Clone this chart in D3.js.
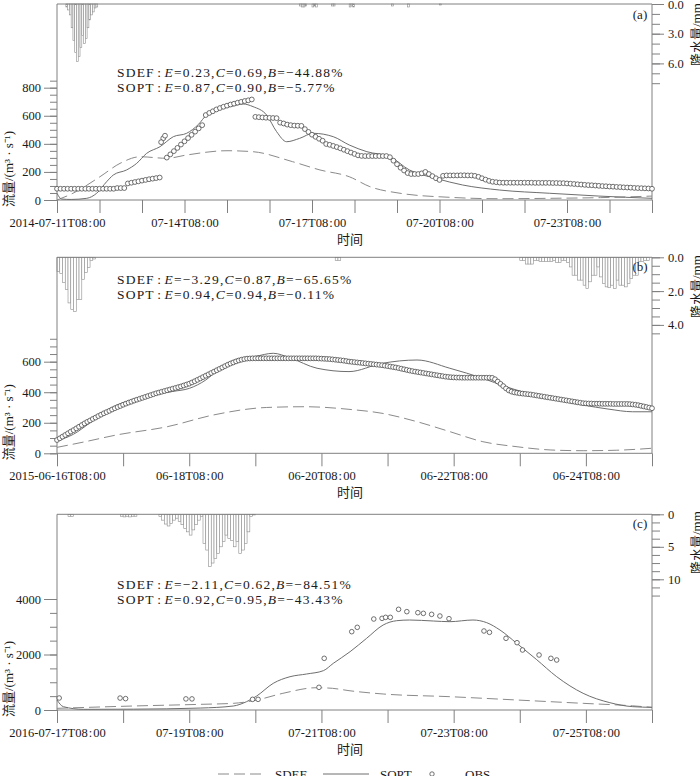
<!DOCTYPE html>
<html>
<head>
<meta charset="utf-8">
<script src="https://cdn.jsdelivr.net/npm/d3@7"></script>
<style>
  body { margin: 0; background: #fff; }
  svg { display: block; font-family: "Liberation Serif", "Times New Roman", "Noto Sans CJK SC", serif; }
</style>
</head>
<body>
<svg id="chart" width="700" height="776"></svg>
<script>
// ---------- data (hours counted from each panel's start time) ----------

// (a) 2014-07-11T08:00, 14 days
const obsA_step = 2;
const obsA = [
  80,80,80,80,80,80,80,80,80,80,80,80,80,80,80,80,80,
  85,85,85,
  118,123,128,133,138,143,148,152,156,160,
  440,
  302,325,348,371,395,418,441,464,487,510,533,
  605,620,632,645,655,664,672,680,686,693,699,705,710,716,
  592,590,588,586,585,584,583,
  551,545,537,533,530,529,528,
  505,485,465,450,436,422,
  399,393,385,377,368,358,348,338,328,318,
  314,313,313,313,313,313,313,313,
  305,280,255,230,210,192,
  185,185,185,190,
  200,185,170,155,143,
  172,175,175,175,175,176,176,175,175,
  172,165,155,145,136,130,127,124,
  123,123,123,123,123,123,123,123,123,122,122,122,122,122,121,121,120,120,
  118,116,114,112,110,108,106,105,
  103,101,99,98,96,95,93,92,90,89,88,86,
  85,84,83,82,80
];
const obsA_extra = [[58.8, 412], [61, 458]];
const soptA = [
  [0,48],[2.6,7],[8,4],[16.8,12],[22.4,48],[28,130],[31.8,178],[39.3,214],[45,261],
  [50.6,332],[58.2,380],[65.7,451],[73.2,475],[80,540],[84.5,605],[99.4,670],[105,684],
  [110.7,665],[118.4,605],[124,487],[129.7,415],[137,439],[144.7,475],[156,451],
  [165,392],[175,344],[188,308],[199,214],[214,154],[229,107],[250,71],[278,48],
  [306,28],[336,12]
];
const sdefA = [
  [0,0],[9,48],[24.3,166],[35.6,261],[47,308],[62,297],[73,320],[96,351],[110.7,344],
  [133,273],[148.5,214],[165,166],[176.7,95],[193.7,48],[222,19],[250,9],[278,12],
  [307,17],[336,28]
];
const rainA = [
  [5, [0.3,0.6,1.1,2.4,3.7,4.9,5.8,5.3,4.4,3.2,4.0,3.5,2.4,1.6,1.1,0.8,0.4,0.3]],
  [137, [0.2,0.3,0.3,0.2]], [144, [0.3,0.2,0.3]], [155, [0.2,0.2]],
  [165, [0.3,0.2,0.3]], [189, [0.2]], [198, [0.3]], [216, [0.1]]
];
const statsA = [["SDEF", "0.23", "0.69", "−44.88%"], ["SOPT", "0.87", "0.90", "−5.77%"]];

// (b) 2015-06-16T08:00, 9 days
const obsB_step = 1;
const obsB = [
  87,98,109,120,131,142,152,163,174,185,196,206,215,
  225,234,244,253,262,270,278,287,295,303,310,318,
  325,332,338,345,351,357,363,369,375,381,387,393,
  398,403,408,413,418,423,428,433,438,444,450,456,
  464,472,481,490,499,508,517,526,535,544,553,562,
  571,580,588,595,602,608,613,617,620,621,622,
  622,622,622,622,622,622,622,622,622,622,622,622,622,622,622,622,622,622,622,622,622,622,622,
  621,620,619,618,617,615,613,611,609,607,604,601,
  599,597,595,593,591,589,587,585,583,581,579,577,
  574,571,568,565,562,558,554,550,546,542,538,535,
  532,529,526,523,520,517,514,511,508,505,502,500,498,497,
  496,496,495,495,495,495,495,495,495,495,495,495,495,494,
  485,470,455,440,425,412,404,399,396,393,391,389,
  387,385,382,379,376,373,370,367,364,361,358,355,352,349,346,343,340,337,334,331,328,
  327,326,326,325,325,325,324,324,324,324,323,323,323,323,323,323,322,320,
  318,315,311,307,303,299,295
];
const soptB = [
  [0,82],[6,125],[12,200],[18,280],[24,332],[30,360],[36,385],[42,405],[48,425],[54,480],
  [60,570],[66,620],[72,635],[78.5,655],[84.6,625],[94.4,557],[106,535],[118,589],
  [130.7,611],[142.6,557],[154.6,491],[163,436],[169,403],[180,355],[191,316],[200,290],
  [209,272],[216,272]
];
const sdefB = [
  [0,39],[10,75],[21.6,120],[40,174],[56.8,251],[76,300],[90,305],[106,288],[118,262],
  [130.7,207],[142.6,142],[154.6,76],[167,43],[179,22],[191,17],[203,20],[216,33]
];
const rainB = [
  [0, [0.85,0.95,1.5,1.9,2.7,3.1,3.2,2.5,2.5,1.3,0.9,0.6,0.2,0.1]],
  [101, [0.2,0.2]],
  [168, [0.18,0.18,0.4,0.4,0.4,0.2,0.2,0.25,0.25,0.25,0.25,0.25,0.2,0.3,0.3,0.2,0.2,0.3]],
  [186, [0.57,1.06,1.06,1.35,1.35,1.65,1.84,1.45,1.06,1.06,0.57,1.16,1.55,1.75,1.8,
         1.65,1.84,1.35,1.65,1.65,1.75,1.55,1.26,1.06,1.06,0.25,0.25,0.2,0.2]]
];
const statsB = [["SDEF", "−3.29", "0.87", "−65.65%"], ["SOPT", "0.94", "0.94", "−0.11%"]];

// (c) 2016-07-17T08:00, 9 days
const obsC = [
  [0.8,432],[22.9,430],[24.9,410],[46.8,400],[49,400],[71,384],[73,384],[95.1,817],
  [97,1862],[107,2822],[109,2979],[115,3279],[118,3303],[119.3,3339],[121,3339],
  [124,3628],[127,3544],[131,3507],[133,3483],[136,3447],[139,3387],[142.3,3291],
  [155,2847],[157,2799],[163,2583],[167,2426],[169,2162],[175,1982],[179.3,1862],[181.4,1802]
];
const soptC = [
  [0,360],[2.3,120],[9.5,24],[27.7,30],[52,70],[64,144],[68.8,300],[72.5,505],[78.5,961],
  [84.6,1200],[90.6,1297],[96.7,1417],[100.3,1681],[106.4,2101],[112.4,2583],[118.4,3063],
  [123.3,3218],[128,3243],[136.6,3207],[142.6,3183],[151,3243],[156,3147],[160.8,2883],
  [166.9,2403],[174,1826],[181.4,1200],[191,601],[200.7,264],[209,120],[216,96]
];
const sdefC = [
  [0,60],[27.7,144],[52,204],[64,240],[72.5,360],[82,601],[94.3,804],[100,781],[106,697],
  [118.4,577],[142.6,480],[167,360],[191,240],[209,150],[216,96]
];
const rainC = [
  [4, [0.35,0.35]],
  [23, [0.3,0.4,0.3,0.4,0.3,0.3]],
  [37, [0.36,0.9,1.5,1.8,1.4,0.9,0.6,1.1,1.6,2.2,2.7,3.2,2.4,1.6,0.9,0.36,4.5,5.5,8.0,
        7.5,6.8,6.0,5.0,4.2,3.2,3.7,4.0,5.0,4.2,6.0,5.5,4.5,2.7,0.36,0.1]]
];
const statsC = [["SDEF", "−2.11", "0.62", "−84.51%"], ["SOPT", "0.92", "0.95", "−43.43%"]];

const legendItems = [
  {label: "SDEF", type: "dash"},
  {label: "SOPT", type: "line"},
  {label: "OBS", type: "circle"}
];

// ---------- layout ----------
const L = 57, R = 652;
const AXIS = '#808080', TEXT = '#1a1a1a';
const COLON = '\u200A:\u200A';
const svg = d3.select('#chart');

const atHour = (start, h) => new Date(+start + h * 36e5);
const runsToPairs = runs => runs.flatMap(([h0, vals]) => vals.map((v, i) => [h0 + i, v]));
const stepToPairs = (vals, step) => vals.map((v, i) => [i * step, v]);

const panels = [
  {
    tag: '(a)', start: new Date(2014, 6, 11, 8), days: 14, labelEvery: 3,
    top: 4, zero: 200, flowMax: 850, flowK: 0.1404, flowMinor: 50, flowMajor: 200,
    rainMax: 8, rainK: 9.9, rainMinor: 1, rainMajor: 3, rainFmt: '.1f', rainLabelY: 66,
    obs: stepToPairs(obsA, obsA_step).concat(obsA_extra), obsR: 2.4, sopt: soptA, sdef: sdefA,
    rain: runsToPairs(rainA), stats: statsA, statsY: 77, tagY: 19
  },
  {
    tag: '(b)', start: new Date(2015, 5, 16, 8), days: 9, labelEvery: 2,
    top: 257.3, zero: 453.3, flowMax: 750, flowK: 0.1527, flowMinor: 50, flowMajor: 200,
    rainMax: 4.5, rainK: 16.9, rainMinor: 0.5, rainMajor: 2, rainFmt: '.1f', rainLabelY: 318,
    obs: stepToPairs(obsB, obsB_step), obsR: 2.4, sopt: soptB, sdef: sdefB,
    rain: runsToPairs(rainB), stats: statsB, statsY: 283.5, tagY: 271
  },
  {
    tag: '(c)', start: new Date(2016, 6, 17, 8), days: 9, labelEvery: 2,
    top: 514.3, zero: 710, flowMax: 4000, flowK: 0.02775, flowMinor: 500, flowMajor: 2000,
    rainMax: 12.5, rainK: 6.5, rainMinor: 1.25, rainMajor: 5, rainFmt: 'd', rainLabelY: 574,
    obs: obsC, obsR: 2.3, sopt: soptC, sdef: sdefC,
    rain: runsToPairs(rainC), stats: statsC, statsY: 588.5, tagY: 528
  }
];

function styleAxis(g) {
  g.attr('font-family', null).attr('font-size', 12.5).attr('color', AXIS);
  g.select('.domain').remove();
  g.selectAll('text').attr('fill', TEXT);
}

function drawPanel(p) {
  const g = svg.append('g');
  const x = d3.scaleTime().domain([p.start, atHour(p.start, p.days * 24)]).range([L, R]);
  const xh = h => x(atHour(p.start, h));
  const y = d3.scaleLinear().domain([0, p.flowMax]).range([p.zero, p.zero - p.flowMax * p.flowK]);
  const yr = d3.scaleLinear().domain([0, p.rainMax]).range([p.top, p.top + p.rainMax * p.rainK]);

  // rainfall bars hanging from the top
  g.append('g').selectAll('rect').data(p.rain).join('rect')
    .attr('x', d => xh(d[0]))
    .attr('width', d => xh(d[0] + 1) - xh(d[0]))
    .attr('y', p.top)
    .attr('height', d => yr(d[1]) - p.top)
    .attr('fill', '#fff')
    .attr('stroke', '#8c8c8c')
    .attr('stroke-width', 0.6);

  // frame
  g.append('path')
    .attr('d', `M${L},${p.zero}V${p.top}H${R}V${p.zero}M${L},${p.zero}H${R}`)
    .attr('fill', 'none').attr('stroke', AXIS).attr('stroke-width', 1);

  // left flow axis
  const flowMinor = d3.range(0, p.flowMax + 1, p.flowMinor);
  g.append('g').attr('transform', `translate(${L},0)`)
    .call(d3.axisLeft(y).tickValues(flowMinor).tickSize(7).tickFormat(''))
    .call(styleAxis);
  g.append('g').attr('transform', `translate(${L},0)`)
    .call(d3.axisLeft(y).tickValues(flowMinor.filter(v => v % p.flowMajor === 0))
      .tickSize(13).tickPadding(3).tickFormat(d3.format('d')))
    .call(styleAxis);

  // right rainfall axis
  const rainMinor = d3.range(0, p.rainMax + 1e-6, p.rainMinor);
  g.append('g').attr('transform', `translate(${R},0)`)
    .call(d3.axisRight(yr).tickValues(rainMinor).tickSize(8).tickFormat(''))
    .call(styleAxis);
  g.append('g').attr('transform', `translate(${R},0)`)
    .call(d3.axisRight(yr).tickValues(rainMinor.filter(v => Math.abs(v / p.rainMajor - Math.round(v / p.rainMajor)) < 1e-6))
      .tickSize(12).tickPadding(4).tickFormat(d3.format(p.rainFmt)))
    .call(styleAxis);

  // bottom time axis
  const fmtFirst = d3.timeFormat('%Y-%m-%dT%H' + COLON + '%M'), fmtRest = d3.timeFormat('%m-%dT%H' + COLON + '%M');
  const dayTicks = d3.range(0, p.days + 1).map(d => atHour(p.start, d * 24));
  g.append('g').attr('transform', `translate(0,${p.zero})`)
    .call(d3.axisBottom(x).tickValues(dayTicks).tickSize(13).tickPadding(5)
      .tickFormat((d, i) => i % p.labelEvery || i === p.days ? '' : (i === 0 ? fmtFirst(d) : fmtRest(d))))
    .call(styleAxis);

  // axis titles
  g.append('text')
    .attr('transform', `translate(13,${p.zero + 7}) rotate(-90)`)
    .attr('font-size', 13).attr('fill', TEXT)
    .text('流量/(m³ · s⁻¹)');
  g.append('text')
    .attr('transform', `translate(701,${p.rainLabelY}) rotate(-90)`)
    .attr('font-size', 13).attr('fill', TEXT)
    .text('降水量/mm');
  g.append('text')
    .attr('x', 350).attr('y', p.zero + 44)
    .attr('text-anchor', 'middle').attr('font-size', 13).attr('fill', TEXT)
    .text('时间');
  g.append('text')
    .attr('x', 640).attr('y', p.tagY)
    .attr('text-anchor', 'middle').attr('font-size', 13).attr('fill', TEXT)
    .text(p.tag);

  // simulated and observed flow
  const line = d3.line().x(d => xh(d[0])).y(d => y(d[1])).curve(d3.curveMonotoneX);
  g.append('path').datum(p.sdef).attr('d', line)
    .attr('fill', 'none').attr('stroke', '#8a8a8a').attr('stroke-width', 1).attr('stroke-dasharray', '11,5');
  g.append('path').datum(p.sopt).attr('d', line)
    .attr('fill', 'none').attr('stroke', '#6e6e6e').attr('stroke-width', 1);
  g.append('g').selectAll('circle').data(p.obs).join('circle')
    .attr('cx', d => xh(d[0])).attr('cy', d => y(d[1])).attr('r', p.obsR)
    .attr('fill', '#fff').attr('stroke', '#4d4d4d').attr('stroke-width', 0.8);

  // statistics
  const stats = g.append('text').attr('font-size', 13.5).attr('letter-spacing', 1.2).attr('fill', TEXT);
  p.stats.forEach(([name, e, c, b], i) => {
    stats.append('tspan').attr('x', 117).attr('y', p.statsY + i * 15).text(name + COLON);
    [['E', e], ['C', c], ['B', b]].forEach(([k, v], j) => {
      stats.append('tspan').attr('font-style', 'italic').text(k);
      stats.append('tspan').text('=' + v + (j < 2 ? ',' : ''));
    });
  });
}

panels.forEach(drawPanel);

// legend
const legend = svg.append('g').attr('transform', 'translate(218,774)');
const legendX = [0, 105, 214];
legendItems.forEach((d, i) => {
  const item = legend.append('g').attr('transform', `translate(${legendX[i]},0)`);
  if (d.type === 'circle') {
    item.append('circle').attr('cx', 0).attr('cy', 0).attr('r', 2.2)
      .attr('fill', '#fff').attr('stroke', '#4d4d4d').attr('stroke-width', 0.8);
  } else {
    item.append('line').attr('x1', 0).attr('x2', 46).attr('y1', 0).attr('y2', 0)
      .attr('stroke', d.type === 'dash' ? '#8a8a8a' : '#6e6e6e').attr('stroke-width', 1)
      .attr('stroke-dasharray', d.type === 'dash' ? '11,5' : null);
  }
  item.append('text').attr('x', d.type === 'circle' ? 33 : 57).attr('y', 4.5)
    .attr('font-size', 13).attr('fill', TEXT).text(d.label);
});
</script>
</body>
</html>
